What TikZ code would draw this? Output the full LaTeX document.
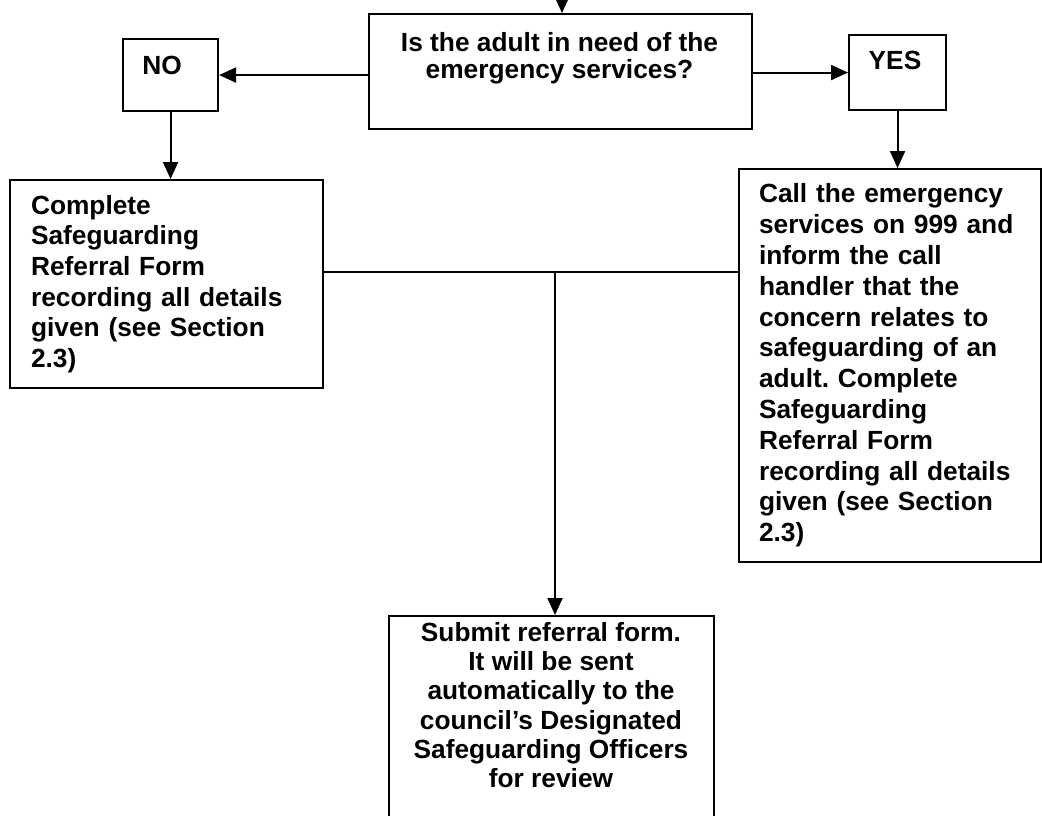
\documentclass[tikz,border=0pt]{standalone}
\usepackage{fontspec}
\setmainfont{Liberation Sans}
\usepackage{tikz}
\usetikzlibrary{arrows.meta}
\frenchspacing

\tikzset{
    box/.style={draw, line width=2.1pt, anchor=north west, inner sep=0pt},
    txt/.style={font=\bfseries\fontsize{26.3}{#1}\selectfont, inner sep=0pt},
    txt/.default=30.5,
    arr/.style={line width=2pt, -{Triangle[length=17pt,width=15pt]}},
    link/.style={line width=2pt}
}

\begin{document}
\begin{tikzpicture}[x=1pt, y=-1pt]
    \useasboundingbox (0, 0) rectangle (1042, 815);
    \clip (0, 0) rectangle (1042, 815);

    % question
    \coordinate (top) at (562, 0);
    \node[box, minimum width=383pt, minimum height=115pt] (ques) at (368, 13) {};
    \node[txt=26.6, align=center] (quesText) at (559.5, 58) {Is the adult in need of the\\emergency services?};

    % answers
    \node[box, minimum width=95pt, minimum height=72pt] (no) at (122, 38) {};
    \node[txt] (noText) at (162, 65) {NO};
    \node[box, minimum width=97pt, minimum height=75pt] (yes) at (848, 34) {};
    \node[txt] (yesText) at (895, 60) {YES};

    % actions
    \node[box, txt=30.6, minimum height=208pt, text width=271pt, inner xsep=21pt, align=left] (complete) at (9, 179)
        {Complete\\Safeguarding\\Referral Form\\recording all details\\given (see Section\\2.3)};
    \node[box, txt=30.8, minimum height=393pt, text width=262pt, inner xsep=20pt, align=left] (call) at (738, 168)
        {Call the emergency\\services on 999 and\\inform the call\\handler that the\\concern relates to\\safeguarding of an\\adult. Complete\\Safeguarding\\Referral Form\\recording all details\\given (see Section\\2.3)};

    \node[box, minimum width=325pt, minimum height=260pt] (submit) at (388, 615) {};
    \node[txt=29.2, align=center] (submitText) at (551, 705)
        {Submit referral form.\\It will be sent\\automatically to the\\council’s Designated\\Safeguarding Officers\\for review};

    % connectors
    \coordinate (split) at (555, 272);
    \draw[arr] (top) -- (top |- ques.north);
    \draw[arr] (ques.west |- no.east) -- (no.east);
    \draw[arr] (ques.east |- yes.west) -- (yes.west);
    \draw[arr] (no.south) -- (no.south |- complete.north);
    \draw[arr] (yes.south) -- (yes.south |- call.north);
    \draw[link] (complete.east |- split) -- (call.west |- split);
    \draw[arr] (split) -- (split |- submit.north);
\end{tikzpicture}
\end{document}
